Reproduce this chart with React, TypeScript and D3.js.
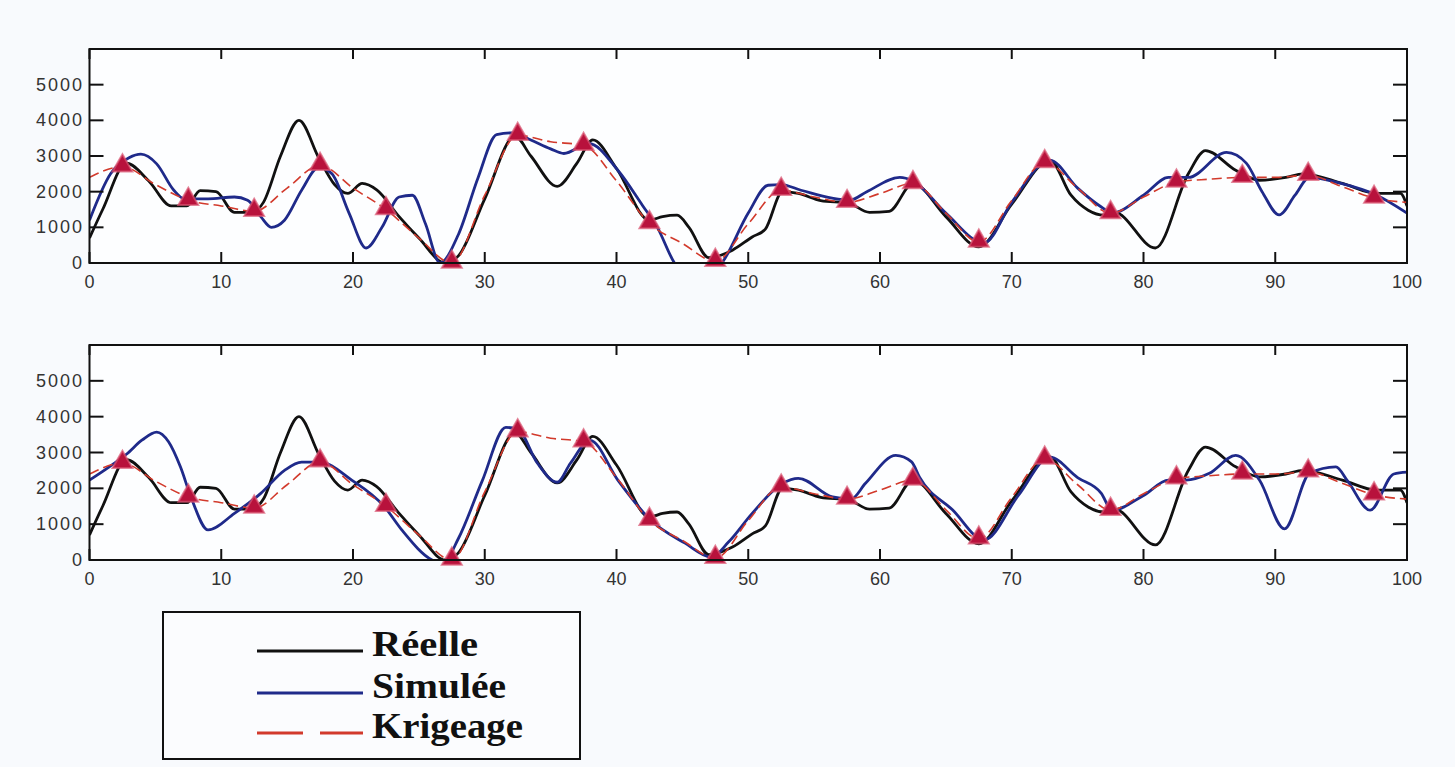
import React from "react";
import * as d3 from "d3";

// graduations
const xTicks = [0, 10, 20, 30, 40, 50, 60, 70, 80, 90, 100];
const yTicks = [0, 1000, 2000, 3000, 4000, 5000];

// courbe réelle (identique dans les deux panneaux)
const reelleX = [0, 1, 2.8, 4.5, 6.2, 7.4, 8.4, 9.6, 11, 12.3, 13.2, 14.5, 15.9, 17.4, 18.6, 19.6, 20.7, 21.8, 23.5, 25, 27, 28, 30, 32.3, 33.5, 35.5, 37, 38.2, 40, 42.5, 43.5, 44.6, 45.5, 47, 48.8, 50.3, 51.3, 52.6, 53.8, 55.5, 57.6, 59.2, 60.7, 62.5, 65, 67.5, 70, 72.9, 74.5, 75.8, 77, 77.8, 80.9, 83.4, 84.7, 87, 88.8, 90.8, 92.1, 95.1, 97.7, 99.5, 100];
const reelleY = [700, 1500, 2800, 2300, 1600, 1600, 2030, 2000, 1420, 1420, 1700, 3000, 4000, 2950, 2200, 1950, 2230, 2050, 1300, 700, 0, 200, 1800, 3550, 3000, 2150, 2800, 3450, 2650, 1200, 1300, 1340, 1000, 150, 360, 730, 950, 2000, 1950, 1750, 1680, 1420, 1450, 2230, 1300, 450, 1650, 2880, 1900, 1480, 1340, 1420, 420, 2500, 3150, 2600, 2320, 2400, 2500, 2230, 1950, 1950, 1600];

// simulation, panneau du haut
const simuleeHautX = [0, 1.6, 3, 3.9, 5.1, 6.4, 7.2, 9, 11, 12, 13, 13.8, 14.8, 16.1, 17.4, 18.4, 19.7, 21, 22.2, 23.5, 24.5, 25.5, 26.6, 28, 29.5, 30.9, 32.2, 33.5, 35, 36, 37.9, 40.1, 42, 43.1, 44.4, 46, 48, 50, 51.5, 52.5, 54, 57.7, 59, 61.5, 62.5, 65, 67.9, 70, 72.9, 75, 76.8, 77.6, 80, 81.9, 83.4, 86.3, 87.8, 89, 90.3, 91.5, 92.6, 95, 97.7, 100];
const simuleeHautY = [1200, 2500, 2950, 3050, 2780, 2040, 1800, 1800, 1850, 1760, 1300, 1000, 1200, 2040, 2680, 2500, 1400, 420, 1000, 1850, 1900, 1100, 0, 800, 2400, 3600, 3650, 3450, 3200, 3070, 3350, 2600, 1600, 1000, 0, -500, 0, 1400, 2180, 2200, 2040, 1760, 2000, 2400, 2300, 1400, 560, 1700, 2880, 2100, 1570, 1400, 1900, 2400, 2400, 3100, 2800, 2000, 1350, 1900, 2400, 2230, 1900, 1400];

// simulation, panneau du bas
const simuleeBasX = [0, 1.5, 2.8, 4, 5.1, 6, 6.9, 7.7, 9, 11, 13, 14.8, 16.1, 17.5, 19.9, 22.4, 23.7, 26, 26.8, 28, 29.8, 31.6, 32.5, 34, 35.5, 36.5, 38, 40.1, 42.6, 45.2, 47.2, 48.5, 50.3, 52.6, 53.8, 56.4, 57.8, 58.9, 61.2, 62.4, 63, 65.5, 67.9, 70.5, 72.9, 75, 76.8, 77.6, 80, 81.9, 83.2, 85, 87, 88.8, 90.7, 92.6, 94.6, 95.5, 97.2, 99, 100];
const simuleeBasY = [2230, 2600, 2950, 3350, 3570, 3300, 2600, 1760, 840, 1300, 1860, 2500, 2730, 2730, 2230, 1480, 840, 0, -100, 600, 2200, 3700, 3650, 2700, 2170, 2700, 3340, 2230, 1110, 470, 80, 500, 1300, 2140, 2280, 1760, 1700, 2140, 2920, 2740, 2310, 1400, 560, 1800, 2870, 2300, 1860, 1390, 1800, 2230, 2230, 2420, 2920, 2230, 870, 2420, 2600, 2200, 1390, 2400, 2450];

// krigeage
const krigeageX = [0, 2.5, 5, 7.5, 10, 12.5, 15, 17.5, 20, 22.5, 25, 27.5, 30, 32.5, 35, 37.5, 40, 42.5, 45, 47.5, 50, 52.5, 55, 57.5, 60, 62.5, 65, 67.5, 70, 72.5, 75, 77.5, 80, 82.5, 85, 87.5, 90, 92.5, 95, 97.5, 100];
const krigeageY = [2400, 2700, 2200, 1760, 1600, 1450, 2100, 2740, 2100, 1500, 700, 0, 1900, 3580, 3400, 3300, 2300, 1110, 550, 50, 1100, 2040, 1850, 1700, 1950, 2230, 1400, 590, 1750, 2820, 2100, 1390, 1850, 2270, 2350, 2400, 2400, 2460, 2150, 1820, 1700];

// données conditionnantes (triangles)
const donneesX = [2.5, 7.5, 12.5, 17.5, 22.5, 27.5, 32.5, 37.5, 42.5, 47.5, 52.5, 57.5, 62.5, 67.5, 72.5, 77.5, 82.5, 87.5, 92.5, 97.5];
const donneesY = [2700, 1760, 1450, 2740, 1500, 0, 3580, 3300, 1110, 50, 2040, 1700, 2230, 590, 2820, 1390, 2270, 2400, 2460, 1820];

const legendLabels = ["Réelle", "Simulée", "Krigeage"];

const W = 1455;
const H = 767;
const left = 89.5;
const right = 1407;

const x = d3.scaleLinear().domain([0, 100]).range([left, right]);

const BLACK = "#111111";
const BLUE = "#1f2a8a";
const RED = "#d23a2c";
const MARK = "#b8123c";

function zip(xs: number[], ys: number[]) {
  return xs.map((v, i) => [v, ys[i]] as [number, number]);
}

function Panel({ id, top, bottom, simX, simY, labelY }: any) {
  const y = d3.scaleLinear().domain([0, 6000]).range([bottom, top]);
  const line = d3
    .line<[number, number]>()
    .x((d) => x(d[0]))
    .y((d) => y(d[1]))
    .curve(d3.curveMonotoneX);
  const tri = d3.symbol().type(d3.symbolTriangle).size(170)();

  return (
    <g>
      <defs>
        <clipPath id={id}>
          <rect x={left} y={top} width={right - left} height={bottom - top} />
        </clipPath>
      </defs>
      <rect x={left} y={top} width={right - left} height={bottom - top} fill="#fdfeff" />
      <g clipPath={`url(#${id})`} fill="none" strokeLinejoin="round">
        <path d={line(zip(reelleX, reelleY)) || ""} stroke={BLACK} strokeWidth={2.8} />
        <path d={line(zip(simX, simY)) || ""} stroke={BLUE} strokeWidth={2.8} />
        <path d={line(zip(krigeageX, krigeageY)) || ""} stroke={RED} strokeWidth={1.6} strokeDasharray="10,5" />
      </g>
      {donneesX.map((d, i) => (
        <path key={i} d={tri || ""} transform={`translate(${x(d)},${y(donneesY[i]) - 1})`} fill={MARK} stroke="#d8536f" strokeOpacity={0.7} strokeWidth={2} />
      ))}
      <rect x={left} y={top} width={right - left} height={bottom - top} fill="none" stroke={BLACK} strokeWidth={2} />
      {xTicks.map((t) => (
        <g key={"x" + t}>
          <line x1={x(t)} x2={x(t)} y1={top} y2={top + 10} stroke={BLACK} strokeWidth={2} />
          <line x1={x(t)} x2={x(t)} y1={bottom} y2={bottom - 11} stroke={BLACK} strokeWidth={2} />
          <text x={x(t)} y={labelY} textAnchor="middle" fontSize={18} fill="#333" fontFamily="Liberation Sans, Arial, sans-serif">
            {t}
          </text>
        </g>
      ))}
      {yTicks.map((t) => (
        <g key={"y" + t}>
          <line x1={left} x2={left + 14} y1={y(t)} y2={y(t)} stroke={BLACK} strokeWidth={2} />
          <line x1={right} x2={right - 14} y1={y(t)} y2={y(t)} stroke={BLACK} strokeWidth={2} />
          <text x={84} y={y(t) + 6} textAnchor="end" fontSize={18} letterSpacing={2} fill="#333" fontFamily="Liberation Sans, Arial, sans-serif">
            {t}
          </text>
        </g>
      ))}
    </g>
  );
}

export default function App() {
  const legendRows = [
    { label: legendLabels[0], color: BLACK, dash: undefined, y: 651, w: 106 },
    { label: legendLabels[1], color: BLUE, dash: undefined, y: 693, w: 134 },
    { label: legendLabels[2], color: RED, dash: "46,17", y: 733, w: 151 },
  ];
  return (
    <div style={{ position: "absolute", left: 0, top: 0 }}>
      <svg width={W} height={H} style={{ display: "block", background: "#f8fafd" }}>
        <Panel id="clipHaut" top={49} bottom={263} simX={simuleeHautX} simY={simuleeHautY} labelY={288} />
        <Panel id="clipBas" top={345} bottom={560} simX={simuleeBasX} simY={simuleeBasY} labelY={585} />
        <rect x={163} y={612} width={417} height={147} fill="#fbfcfe" stroke={BLACK} strokeWidth={2} />
        {legendRows.map((r) => (
          <g key={r.label}>
            <line x1={257} x2={363} y1={r.y} y2={r.y} stroke={r.color} strokeWidth={3} strokeDasharray={r.dash} />
            <text
              x={372}
              y={r.y + 5}
              fontSize={35}
              fontWeight="bold"
              fontFamily="Liberation Serif, Times New Roman, serif"
              fill="#111"
              textLength={r.w}
              lengthAdjust="spacingAndGlyphs"
            >
              {r.label}
            </text>
          </g>
        ))}
      </svg>
    </div>
  );
}
